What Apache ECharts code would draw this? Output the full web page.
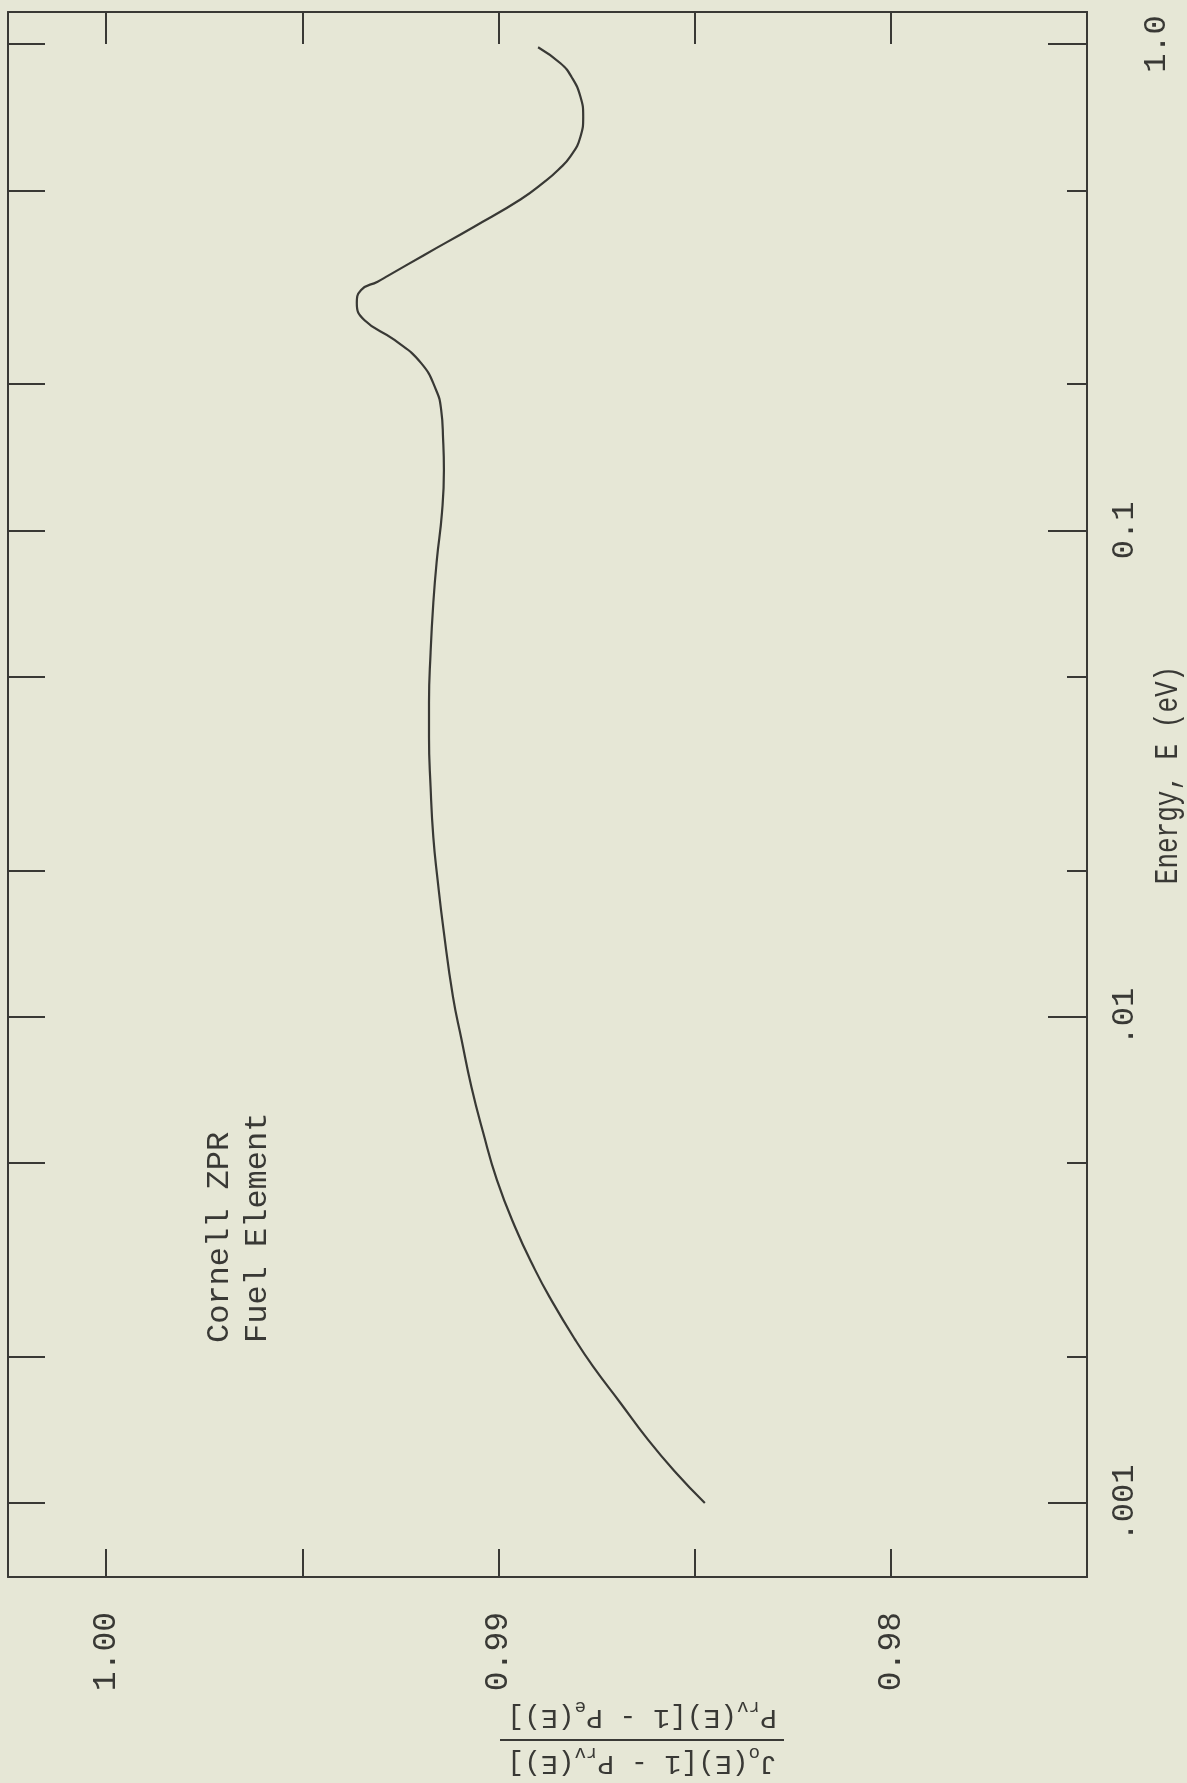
<!DOCTYPE html>
<html>
<head>
<meta charset="utf-8">
<script src="https://cdn.jsdelivr.net/npm/echarts@6/dist/echarts.min.js"></script>
<style>
  html, body { margin: 0; padding: 0; background: #e6e7d6; }
  #main { width: 1187px; height: 1783px; }
</style>
</head>
<body>
<div id="main"></div>
<script>
var energyEV = [0.001, 0.00116, 0.00135, 0.00161, 0.00191, 0.00217, 0.00262, 0.00302, 0.0037, 0.00462,
  0.00578, 0.00718, 0.00897, 0.011, 0.0151, 0.0191, 0.0234, 0.0297, 0.0376, 0.0442,
  0.056, 0.071, 0.087, 0.1086, 0.1331, 0.1535, 0.1769, 0.1944, 0.2207, 0.2463,
  0.2708, 0.2931, 0.312, 0.3246, 0.3336, 0.3684, 0.4211, 0.4794, 0.5236, 0.5508,
  0.5866, 0.6448, 0.7087, 0.779, 0.8565, 0.9128, 0.985];
var ratioValues = [0.98474, 0.98550, 0.98619, 0.98690, 0.98759, 0.98805, 0.98866, 0.98907, 0.98958, 0.99004,
  0.99039, 0.99069, 0.99094, 0.99116, 0.99140, 0.99155, 0.99166, 0.99173, 0.99177, 0.99177,
  0.99173, 0.99166, 0.99157, 0.99144, 0.99139, 0.99141, 0.99146, 0.99159, 0.99197, 0.99265,
  0.99342, 0.99361, 0.99350, 0.99308, 0.99282, 0.99189, 0.99062, 0.98943, 0.98879, 0.98848,
  0.98817, 0.98791, 0.98784, 0.98791, 0.98814, 0.98842, 0.98899];

// axes
var energyMajorTicks = [0.001, 0.01, 0.1, 1.0];
var energyMajorLabels = ['.001', '.01', '0.1', '1.0'];
var energyMinorTicks = [0.002, 0.005, 0.02, 0.05, 0.2, 0.5];
var ratioTicks = [0.98, 0.985, 0.99, 0.995, 1.00];
var ratioLabels = [0.98, 0.99, 1.00];

var ink = '#393935';
var mono = '"Liberation Mono", "DejaVu Sans Mono", monospace';

var lg = function (v) { return Math.log10(v); };
var yMin = -3.152, yMax = 0.0658;

var seriesData = energyEV.map(function (e, i) {
  return [ratioValues[i], lg(e)];
});

var allEnergyTicks = energyMajorTicks.concat(energyMinorTicks).map(lg);

function energyLabel(v) {
  for (var i = 0; i < energyMajorTicks.length; i++) {
    if (Math.abs(lg(energyMajorTicks[i]) - v) < 1e-6) {
      // the top label sits further out on the scan
      return i === energyMajorTicks.length - 1 ? '{far|' + energyMajorLabels[i] + '}' : energyMajorLabels[i];
    }
  }
  return '';
}

var chart = echarts.init(document.getElementById('main'));

var baseX = {
  type: 'value', min: 0.975, max: 1.0025, inverse: true,
  axisLine: { show: true, onZero: false, lineStyle: { color: ink, width: 2 } },
  splitLine: { show: false }
};
var baseY = {
  type: 'value', min: yMin, max: yMax,
  axisLine: { show: true, onZero: false, lineStyle: { color: ink, width: 2 } },
  splitLine: { show: false }
};

chart.setOption({
  backgroundColor: '#e6e7d6',
  animation: false,
  grid: { left: 8, top: 12, right: 100, bottom: 206, outerBoundsMode: 'none' },
  xAxis: [
    echarts.util.merge({
      position: 'bottom',
      axisTick: { inside: true, length: 28, customValues: ratioTicks, lineStyle: { color: ink, width: 2 } },
      axisLabel: {
        customValues: ratioLabels, rotate: 90, margin: 35,
        fontFamily: mono, fontSize: 33, color: ink,
        formatter: function (v) { return v.toFixed(2); }
      }
    }, baseX),
    echarts.util.merge({
      position: 'top',
      axisTick: { inside: true, length: 32, customValues: ratioTicks, lineStyle: { color: ink, width: 2 } },
      axisLabel: { show: false }
    }, baseX)
  ],
  yAxis: [
    echarts.util.merge({
      position: 'left',
      axisTick: { inside: true, length: 37, customValues: allEnergyTicks, lineStyle: { color: ink, width: 2 } },
      axisLabel: { show: false }
    }, baseY),
    echarts.util.merge({
      position: 'right',
      axisTick: { inside: true, length: 39, customValues: energyMajorTicks.map(lg), lineStyle: { color: ink, width: 2 } },
      axisLabel: {
        customValues: energyMajorTicks.map(lg), rotate: 90, margin: 22,
        fontFamily: mono, fontSize: 32, color: ink,
        formatter: energyLabel,
        rich: { far: { fontFamily: mono, fontSize: 32, color: ink, padding: [32, 0, 0, 0] } }
      }
    }, baseY),
    echarts.util.merge({
      position: 'right',
      axisTick: { inside: true, length: 20, customValues: energyMinorTicks.map(lg), lineStyle: { color: ink, width: 2 } },
      axisLabel: { show: false }
    }, baseY)
  ],
  series: [{
    type: 'line',
    xAxisIndex: 0,
    yAxisIndex: 1,
    data: seriesData,
    smooth: 0.5,
    showSymbol: false,
    lineStyle: { color: ink, width: 2.2 }
  }],
  graphic: [
    // case label, typed sideways like the rest of the page
    {
      type: 'text', x: 220, y: 1343, rotation: Math.PI / 2,
      style: { text: 'Cornell ZPR', font: '32px ' + mono, fill: ink, align: 'left', verticalAlign: 'middle' }
    },
    {
      type: 'text', x: 258, y: 1343, rotation: Math.PI / 2,
      style: { text: 'Fuel Element', font: '32px ' + mono, fill: ink, align: 'left', verticalAlign: 'middle' }
    },
    // energy axis title
    {
      type: 'text', x: 1168, y: 775, rotation: Math.PI / 2, scaleY: 1.3,
      style: { text: 'Energy, E (eV)', font: '26px ' + mono, fill: ink, align: 'center', verticalAlign: 'middle' }
    },
    // ratio axis title, upside down on the scan
    {
      type: 'group', x: 642, y: 1740, rotation: Math.PI,
      children: [
        {
          type: 'text', x: 0, y: -4,
          style: {
            text: 'J{s|o}(E)[1 - P{s|rv}(E)]',
            fontFamily: mono, fontSize: 28, lineHeight: 38, fill: ink,
            align: 'center', verticalAlign: 'bottom',
            rich: { s: { fontFamily: mono, fontSize: 19, lineHeight: 16, verticalAlign: 'bottom', fill: ink } }
          }
        },
        {
          type: 'line',
          shape: { x1: -142, y1: 0, x2: 142, y2: 0 },
          style: { stroke: ink, lineWidth: 2 }
        },
        {
          type: 'text', x: 0, y: 4,
          style: {
            text: 'P{s|rv}(E)[1 - P{s|e}(E)]',
            fontFamily: mono, fontSize: 28, lineHeight: 38, fill: ink,
            align: 'center', verticalAlign: 'top',
            rich: { s: { fontFamily: mono, fontSize: 19, lineHeight: 16, verticalAlign: 'bottom', fill: ink } }
          }
        }
      ]
    }
  ]
});
</script>
</body>
</html>
